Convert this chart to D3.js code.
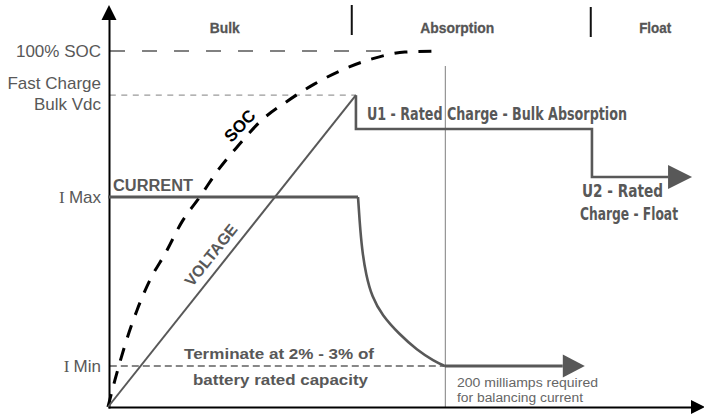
<!DOCTYPE html>
<html>
<head>
<meta charset="utf-8">
<script src="https://cdn.jsdelivr.net/npm/d3@7"></script>
<style>
  html, body { margin: 0; padding: 0; background: #fff; }
  svg { display: block; }
</style>
</head>
<body>
<script>
// ---------------- DATA ----------------
const phaseLabels = ["Bulk", "Absorption", "Float"];
const phaseCenters = [19.6, 58.6, 91.8];
const phaseDividers = [40.9, 81.0];

const levelValues = [100, 87.6, 59, 11.5];
const levelLabels = [["100% SOC"], ["Fast Charge", "Bulk Vdc"], ["I Max"], ["I Min"]];

const socX = [0, 1.17, 3.02, 4.87, 7.05, 9.73, 12.4, 15.4, 18.5, 21.8, 25.8, 29.9, 34.6, 39.3, 44.3, 49.8, 55.7];
const socY = [0, 7.6, 18.3, 27.2, 35.7, 43.5, 52.0, 59.0, 66.6, 73.3, 80.6, 85.7, 90.7, 94.7, 97.8, 99.7, 100];

const voltageX = [0, 41.6, 41.6, 81.2, 81.2, 94];
const voltageY = [0, 87.6, 78.1, 78.1, 64.6, 64.6];
const voltageArrowTip = 98;

const currentX = [0, 41.95, 42.2, 42.62, 43.29, 44.3, 45.97, 48.83, 51.85, 54.7, 56.54, 76.3];
const currentY = [59, 59.0, 52.5, 44.1, 37.1, 30.9, 25.8, 20.5, 16.0, 12.9, 11.5, 11.5];
const currentArrowTip = 80;

const absorptionEndX = 56.6;
const socLineEndX = 46.1;

// ---------------- SETUP ----------------
const W = 704, H = 417;
const xScale = d3.scaleLinear().domain([0, 100]).range([108, 704]);
const yScale = d3.scaleLinear().domain([0, 100]).range([407, 51]);

const GREY = "#585858";
const svg = d3.select("body").append("svg").attr("width", W).attr("height", H);
svg.append("rect").attr("width", W).attr("height", H).attr("fill", "#fff");

const condensed = "'Liberation Sans Narrow', 'DejaVu Sans Condensed', 'Roboto', sans-serif";
const sans = "'Liberation Sans', Arial, sans-serif";

const line = d3.line().x(d => xScale(d[0])).y(d => yScale(d[1]));
const zip = (xs, ys) => xs.map((x, i) => [x, ys[i]]);

// ---------------- REFERENCE LINES ----------------
svg.append("path")
  .attr("d", line([[0.34, levelValues[0]], [socLineEndX, levelValues[0]]]))
  .attr("stroke", GREY).attr("stroke-width", 1.5).attr("stroke-dasharray", "15,17").attr("fill", "none");
svg.append("path")
  .attr("d", line([[0.3, levelValues[1]], [voltageX[1], levelValues[1]]]))
  .attr("stroke", "#9a9a9a").attr("stroke-width", 1.2).attr("stroke-dasharray", "6,5.5").attr("fill", "none");
svg.append("path")
  .attr("d", line([[0.3, levelValues[3]], [absorptionEndX, levelValues[3]]]))
  .attr("stroke", "#111").attr("stroke-width", 1.1).attr("stroke-dasharray", "7,4").attr("fill", "none");
svg.append("path")
  .attr("d", line([[absorptionEndX, 0], [absorptionEndX, 95.8]]))
  .attr("stroke", "#8a8a8a").attr("stroke-width", 1.1).attr("fill", "none");

// ---------------- AXES ----------------
const xAxisScale = d3.scaleLinear().domain([0, 1]).range([xScale(0), 697]);
svg.append("g").attr("transform", `translate(0,${yScale(0)})`)
  .call(d3.axisBottom(xAxisScale).tickValues([]).tickSizeOuter(0))
  .call(g => g.select(".domain").attr("stroke", "#000").attr("stroke-width", 2));
const yAxisScale = d3.scaleLinear().domain([0, 1]).range([yScale(0) + 1, 19]);
svg.append("g").attr("transform", `translate(${xScale(0) + 1},0)`)
  .call(d3.axisLeft(yAxisScale).tickValues([]).tickSizeOuter(0))
  .call(g => g.select(".domain").attr("stroke", "#000").attr("stroke-width", 2));

function arrowRight(xTipPx, yPx, len, half, fill) {
  svg.append("path")
    .attr("d", `M${xTipPx - len},${yPx - half}L${xTipPx},${yPx}L${xTipPx - len},${yPx + half}Z`)
    .attr("fill", fill);
}
arrowRight(705, yScale(0), 14, 7, "#000");
svg.append("path")
  .attr("d", `M${xScale(0) + 1 - 7.5},20L${xScale(0) + 1},5L${xScale(0) + 1 + 7.5},20Z`)
  .attr("fill", "#000");

phaseDividers.forEach((p, i) => {
  svg.append("line")
    .attr("x1", xScale(p)).attr("x2", xScale(p))
    .attr("y1", i === 0 ? 5 : 7).attr("y2", i === 0 ? 35 : 37)
    .attr("stroke", "#111").attr("stroke-width", 2);
});
const phaseWidths = [30, 74, 32];
phaseLabels.forEach((t, i) => {
  svg.append("text")
    .attr("x", xScale(phaseCenters[i])).attr("y", 32.5)
    .attr("text-anchor", "middle")
    .attr("font-family", sans).attr("font-weight", "bold").attr("font-size", 15.5)
    .attr("fill", "#555").attr("stroke", "#555").attr("stroke-width", 0.3)
    .attr("textLength", phaseWidths[i]).attr("lengthAdjust", "spacingAndGlyphs")
    .text(t);
});

// Y-level labels
const labelG = svg.append("g").attr("font-family", sans).attr("font-size", 17).attr("fill", GREY).attr("text-anchor", "end");
labelG.append("text").attr("x", 101).attr("y", yScale(levelValues[0]) + 6).text(levelLabels[0][0]);
labelG.append("text").attr("x", 101).attr("y", yScale(levelValues[1]) - 6).text(levelLabels[1][0]);
labelG.append("text").attr("x", 101).attr("y", yScale(levelValues[1]) + 15).text(levelLabels[1][1]);
[2, 3].forEach(k => {
  const t = labelG.append("text").attr("x", 101).attr("y", yScale(levelValues[k]) + 6);
  const parts = levelLabels[k][0].split(" ");
  t.append("tspan").attr("font-family", "'Liberation Serif', serif").text(parts[0] + " ");
  t.append("tspan").text(parts.slice(1).join(" "));
});

// ---------------- SERIES ----------------
svg.append("path")
  .attr("d", d3.line().x(d => xScale(d[0])).y(d => yScale(d[1])).curve(d3.curveMonotoneX)(zip(socX, socY)))
  .attr("stroke", "#000").attr("stroke-width", 3).attr("stroke-dasharray", "13,11")
  .attr("fill", "none");

const vPts = zip(voltageX, voltageY);
svg.append("path")
  .attr("d", line(vPts.slice(0, 2)))
  .attr("stroke", GREY).attr("stroke-width", 2).attr("fill", "none");
svg.append("path")
  .attr("d", line(vPts.slice(1)))
  .attr("stroke", GREY).attr("stroke-width", 2.6).attr("fill", "none").attr("stroke-linejoin", "miter");
arrowRight(xScale(voltageArrowTip), yScale(voltageY[voltageY.length - 1]), 24, 12, GREY);

const cPts = zip(currentX, currentY);
svg.append("path")
  .attr("d", line(cPts.slice(0, 2)))
  .attr("stroke", GREY).attr("stroke-width", 3).attr("fill", "none");
svg.append("path")
  .attr("d", d3.line().x(d => xScale(d[0])).y(d => yScale(d[1])).curve(d3.curveBasis)(cPts.slice(1, cPts.length - 1)))
  .attr("stroke", GREY).attr("stroke-width", 2.6).attr("fill", "none");
svg.append("path")
  .attr("d", line(cPts.slice(cPts.length - 2)))
  .attr("stroke", GREY).attr("stroke-width", 3).attr("fill", "none");
arrowRight(xScale(currentArrowTip), yScale(currentY[currentY.length - 1]), 22, 11.5, GREY);

// ---------------- ANNOTATIONS ----------------
svg.append("text").attr("x", 113).attr("y", 191)
  .attr("font-family", sans).attr("font-weight", "bold").attr("font-size", 16).attr("fill", GREY)
  .attr("textLength", 80).attr("lengthAdjust", "spacingAndGlyphs")
  .text("CURRENT");

svg.append("text")
  .attr("transform", "translate(240,126) rotate(-47)")
  .attr("text-anchor", "middle").attr("dominant-baseline", "central")
  .attr("font-family", sans).attr("font-weight", "bold").attr("font-size", 17).attr("fill", "#000")
  .text("SOC");

const vAngle = Math.atan2(yScale(voltageY[0]) - yScale(voltageY[1]), xScale(voltageX[1]) - xScale(voltageX[0])) * 180 / Math.PI;
svg.append("text")
  .attr("transform", `translate(211,255) rotate(${-vAngle})`)
  .attr("text-anchor", "middle").attr("dominant-baseline", "central")
  .attr("font-family", sans).attr("font-weight", "bold").attr("font-size", 16).attr("fill", GREY)
  .attr("textLength", 74).attr("lengthAdjust", "spacingAndGlyphs")
  .text("VOLTAGE");

svg.append("text").attr("x", 367).attr("y", 120)
  .attr("font-family", condensed).attr("font-weight", "bold").attr("font-size", 17).attr("fill", GREY)
  .attr("textLength", 260).attr("lengthAdjust", "spacingAndGlyphs")
  .text("U1 - Rated Charge - Bulk Absorption");

svg.append("text").attr("x", 622.5).attr("y", 197)
  .attr("text-anchor", "middle")
  .attr("font-family", condensed).attr("font-weight", "bold").attr("font-size", 17).attr("fill", GREY)
  .attr("textLength", 81).attr("lengthAdjust", "spacingAndGlyphs")
  .text("U2 - Rated");
svg.append("text").attr("x", 629).attr("y", 219.5)
  .attr("text-anchor", "middle")
  .attr("font-family", condensed).attr("font-weight", "bold").attr("font-size", 17).attr("fill", GREY)
  .attr("textLength", 98).attr("lengthAdjust", "spacingAndGlyphs")
  .text("Charge - Float");

svg.append("text").attr("x", 184).attr("y", 358.5)
  .attr("font-family", sans).attr("font-weight", "bold").attr("font-size", 15.5).attr("fill", GREY)
  .attr("textLength", 190).attr("lengthAdjust", "spacingAndGlyphs")
  .text("Terminate at 2% - 3% of");
svg.append("text").attr("x", 193).attr("y", 385)
  .attr("font-family", sans).attr("font-weight", "bold").attr("font-size", 15.5).attr("fill", GREY)
  .attr("textLength", 175).attr("lengthAdjust", "spacingAndGlyphs")
  .text("battery rated capacity");

svg.append("text").attr("x", 457).attr("y", 387)
  .attr("font-family", sans).attr("font-size", 12.5).attr("fill", "#666")
  .attr("textLength", 141).attr("lengthAdjust", "spacingAndGlyphs")
  .text("200 milliamps required");
svg.append("text").attr("x", 457).attr("y", 402)
  .attr("font-family", sans).attr("font-size", 12.5).attr("fill", "#666")
  .attr("textLength", 126).attr("lengthAdjust", "spacingAndGlyphs")
  .text("for balancing current");
</script>
</body>
</html>
